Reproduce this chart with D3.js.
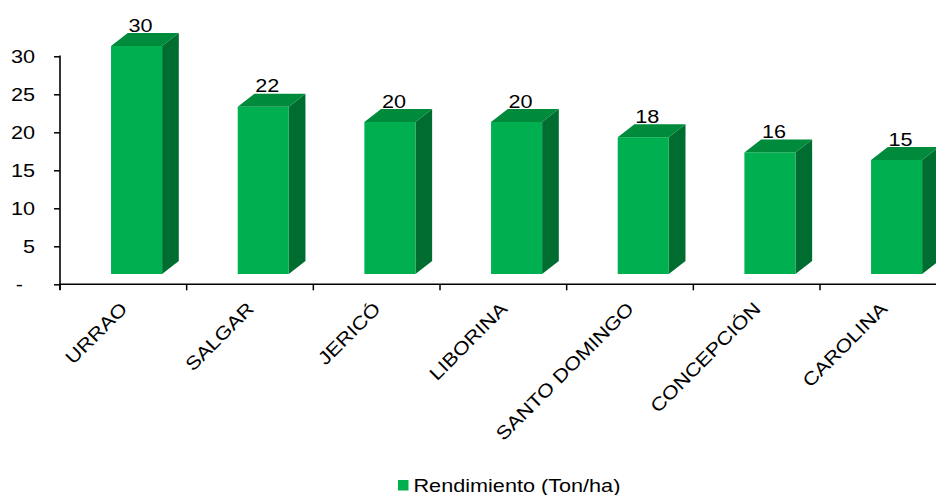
<!DOCTYPE html>
<html>
<head>
<meta charset="utf-8">
<script src="https://cdn.jsdelivr.net/npm/d3@7"></script>
<style>
  html, body { margin: 0; padding: 0; background: #fff; }
  text { font-family: "Liberation Sans", Arial, sans-serif; fill: #000; }
</style>
</head>
<body>
<svg id="chart" width="936" height="495"></svg>
<script>
const categories = ["URRAO", "SALGAR", "JERICÓ", "LIBORINA", "SANTO DOMINGO", "CONCEPCIÓN", "CAROLINA"];
const values = [30, 22, 20, 20, 18, 16, 15];
const valueLabels = ["30", "22", "20", "20", "18", "16", "15"];
const yTicks = [0, 5, 10, 15, 20, 25, 30];
const seriesName = "Rendimiento (Ton/ha)";

const svg = d3.select("#chart");
const SX = 1.17; // horizontal text stretch seen in the reference
const fs = 18.5;

const x0 = 60, bandW = 126.67;
const x = d3.scaleBand().domain(categories).range([x0, x0 + bandW * categories.length]).padding(0);
const y = d3.scaleLinear().domain([0, 30]).range([284.3, 56.3]);

const colFront = "#00b050", colTop = "#008a3b", colSide = "#006d30";
const floorShift = 10.3;   // front face sits below the back plane
const dx = 16.7, dy = 13;

// bars
const g = svg.append("g");
categories.forEach((c, i) => {
  const bx = x(c) + x.bandwidth() * 0.403;
  const bw = x.bandwidth() * 0.403;
  const yt = y(values[i]) - floorShift;
  const yb = y(0) - floorShift;
  g.append("path")
    .attr("d", `M${bx + bw},${yt} L${bx + bw + dx},${yt - dy} L${bx + bw + dx},${yb - dy} L${bx + bw},${yb} Z`)
    .attr("fill", colSide);
  g.append("path")
    .attr("d", `M${bx},${yt} L${bx + dx},${yt - dy} L${bx + bw + dx},${yt - dy} L${bx + bw},${yt} Z`)
    .attr("fill", colTop);
  g.append("rect")
    .attr("x", bx).attr("y", yt).attr("width", bw).attr("height", yb - yt)
    .attr("fill", colFront);
  g.append("text")
    .attr("transform", `translate(${bx + bw / 2 + 4},${yt - dy - 1.5}) scale(${SX},1)`)
    .attr("text-anchor", "middle")
    .attr("font-size", fs)
    .text(valueLabels[i]);
});

// y axis
const yAxis = d3.axisLeft(y).tickValues(yTicks).tickSize(6).tickPadding(20)
  .tickFormat(d => d === 0 ? "-" : d);
const ya = svg.append("g").attr("transform", `translate(${x0},0)`).call(yAxis);
ya.select(".domain").remove();
ya.selectAll(".tick line").attr("stroke", "#000").attr("stroke-width", 1.5);
ya.selectAll(".tick text")
  .attr("font-size", fs)
  .attr("font-family", '"Liberation Sans", Arial, sans-serif')
  .attr("fill", "#000")
  .each(function (d) {
    const xx = d === 0 ? -37 : -25;
    d3.select(this).attr("x", null).attr("dy", "0.35em")
      .attr("transform", `translate(${xx},0) scale(${SX},1)`);
  });
svg.append("line")
  .attr("x1", x0).attr("x2", x0).attr("y1", 55.5).attr("y2", 290)
  .attr("stroke", "#000").attr("stroke-width", 1.6);

// x axis
svg.append("line")
  .attr("x1", x0 - 1).attr("x2", 936).attr("y1", y(0)).attr("y2", y(0))
  .attr("stroke", "#000").attr("stroke-width", 1.6);
const bounds = categories.map(c => x(c)).concat([x.range()[1]]);
svg.selectAll(".xtick").data(bounds).enter().append("line")
  .attr("x1", d => d).attr("x2", d => d)
  .attr("y1", y(0)).attr("y2", y(0) + 6)
  .attr("stroke", "#000").attr("stroke-width", 1.5);

svg.selectAll(".xlab").data(categories).enter().append("text")
  .attr("transform", d => `translate(${x(d) + x.bandwidth() / 2 + 5},${310}) rotate(-45) scale(${SX},1)`)
  .attr("text-anchor", "end")
  .attr("font-size", fs)
  .text(d => d);

// legend
const lg = svg.append("g").attr("transform", "translate(398,480)");
lg.append("rect").attr("width", 10.5).attr("height", 10.5).attr("fill", colFront);
lg.append("text")
  .attr("transform", `translate(15.5,11.8) scale(${SX},1)`)
  .attr("font-size", fs)
  .text(seriesName);
</script>
</body>
</html>
